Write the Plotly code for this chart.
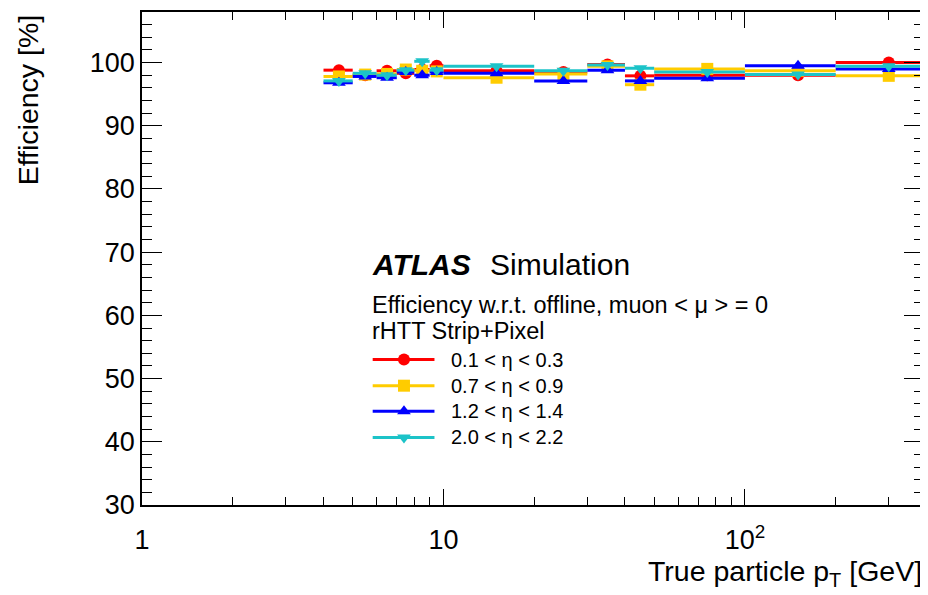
import plotly.graph_objects as go

# ---------------- data ----------------
bin_lo = [4, 5, 6, 7, 8, 9, 10, 20, 30, 40, 50, 100, 200]
bin_hi = [5, 6, 7, 8, 9, 10, 20, 30, 40, 50, 100, 200, 400]
bin_ctr = [4.5, 5.5, 6.5, 7.5, 8.5, 9.5, 15, 25, 35, 45, 75, 150, 300]

eff_eta_01_03 = [98.8, 98.0, 98.7, 98.3, 98.9, 99.5, 98.7, 98.5, 99.7, 97.9, 98.0, 98.0, 100.0]
eff_eta_07_09 = [97.8, 98.1, 98.2, 98.9, 98.7, 98.6, 97.6, 98.2, 99.4, 96.5, 99.0, 98.7, 97.9]
eff_eta_12_14 = [96.8, 97.8, 97.6, 98.5, 98.0, 98.5, 98.3, 97.1, 98.8, 97.1, 97.5, 99.5, 99.0]
eff_eta_20_22 = [97.1, 98.3, 98.0, 98.8, 100.2, 98.8, 99.4, 98.7, 99.6, 99.1, 98.5, 98.1, 99.4]

series_labels = ["0.1 < η < 0.3", "0.7 < η < 0.9", "1.2 < η < 1.4", "2.0 < η < 2.2"]
series_values = [eff_eta_01_03, eff_eta_07_09, eff_eta_12_14, eff_eta_20_22]
series_colors = ["#ff0000", "#ffcc00", "#0000ff", "#1cc3c8"]
series_symbols = ["circle", "square", "triangle-up", "triangle-down"]

x_tickvals = [1, 10, 100]
x_ticktext = ["1", "10", "10<sup>2</sup>"]

FONT = "Liberation Sans, Arial, Helvetica, sans-serif"

fig = go.Figure()

err_plus = [h - c for h, c in zip(bin_hi, bin_ctr)]
err_minus = [c - l for c, l in zip(bin_ctr, bin_lo)]

for lab, vals, col, sym in zip(series_labels, series_values, series_colors, series_symbols):
    fig.add_trace(go.Scatter(
        x=bin_ctr, y=vals, mode="markers", name=lab, showlegend=False,
        marker=dict(symbol=sym, color=col, size=12, line=dict(width=0)),
        error_x=dict(type="data", symmetric=False, array=err_plus, arrayminus=err_minus,
                     color=col, thickness=3, width=0),
    ))

# manual legend on an invisible overlay axis pair (0..1 over plot area)
leg_x0, leg_xm, leg_x1, leg_tx = 0.295, 0.335, 0.374, 0.393
leg_y = [0.295, 0.242, 0.190, 0.137]
for lab, col, sym, yy in zip(series_labels, series_colors, series_symbols, leg_y):
    fig.add_trace(go.Scatter(
        x=[leg_x0, leg_x1], y=[yy, yy], mode="lines", xaxis="x2", yaxis="y2",
        line=dict(color=col, width=3), showlegend=False, hoverinfo="skip"))
    fig.add_trace(go.Scatter(
        x=[leg_xm], y=[yy], mode="markers", xaxis="x2", yaxis="y2",
        marker=dict(symbol=sym, color=col, size=12), showlegend=False, hoverinfo="skip"))
    fig.add_annotation(x=leg_tx, y=yy, xref="x2", yref="y2", text=lab, showarrow=False,
                       xanchor="left", yanchor="middle", font=dict(family=FONT, size=20, color="black"))

fig.add_annotation(x=0.291, y=0.487, xref="x2", yref="y2", showarrow=False,
                   text="<b><i>ATLAS</i></b>", xanchor="left", yanchor="middle",
                   font=dict(family=FONT, size=30, color="black"))
fig.add_annotation(x=0.442, y=0.487, xref="x2", yref="y2", showarrow=False,
                   text="Simulation", xanchor="left", yanchor="middle",
                   font=dict(family=FONT, size=30, color="black"))
fig.add_annotation(x=0.291, y=0.406, xref="x2", yref="y2", showarrow=False,
                   text="Efficiency w.r.t. offline, muon < μ > = 0", xanchor="left", yanchor="middle",
                   font=dict(family=FONT, size=23.5, color="black"))
fig.add_annotation(x=0.291, y=0.352, xref="x2", yref="y2", showarrow=False,
                   text="rHTT Strip+Pixel", xanchor="left", yanchor="middle",
                   font=dict(family=FONT, size=23.5, color="black"))

# axis titles
fig.add_annotation(x=-0.146, y=1.0, xref="paper", yref="paper", showarrow=False,
                   text="Efficiency [%]", textangle=-90, xanchor="center", yanchor="top",
                   font=dict(family=FONT, size=28.5, color="black"))
fig.add_annotation(x=1.0, y=-0.137, xref="paper", yref="paper", showarrow=False,
                   text="True particle p<sub>T</sub> [GeV]", xanchor="right", yanchor="middle",
                   font=dict(family=FONT, size=28.5, color="black"))

fig.update_layout(
    width=920, height=587,
    margin=dict(l=134, r=3, t=2, b=90),
    paper_bgcolor="white", plot_bgcolor="white",
    font=dict(family=FONT, color="black"),
    xaxis=dict(
        type="log", range=[0, 2.594],
        tickvals=x_tickvals, ticktext=x_ticktext,
        ticks="inside", ticklen=16, tickwidth=1.2, tickcolor="black",
        showline=True, linecolor="black", linewidth=1.5, mirror="allticks",
        showgrid=False, zeroline=False,
        tickfont=dict(family=FONT, size=27, color="black"),
        ticklabelstandoff=10,
        minor=dict(ticks="inside", ticklen=8, tickwidth=1.2, tickcolor="black",
                   tickvals=[2, 3, 4, 5, 6, 7, 8, 9, 20, 30, 40, 50, 60, 70, 80, 90, 200, 300],
                   showgrid=False),
    ),
    yaxis=dict(
        range=[30, 108], dtick=10, tick0=0,
        ticks="inside", ticklen=20, tickwidth=1.2, tickcolor="black",
        showline=True, linecolor="black", linewidth=1.5, mirror="allticks",
        showgrid=False, zeroline=False,
        tickfont=dict(family=FONT, size=27, color="black"),
        ticklabelstandoff=0,
        minor=dict(ticks="inside", ticklen=10, tickwidth=1.2, tickcolor="black", dtick=2,
                   showgrid=False),
    ),
    xaxis2=dict(overlaying="x", range=[0, 1], visible=False, anchor="y2"),
    yaxis2=dict(overlaying="y", range=[0, 1], visible=False, anchor="x2"),
)

fig.write_html("out.html")
